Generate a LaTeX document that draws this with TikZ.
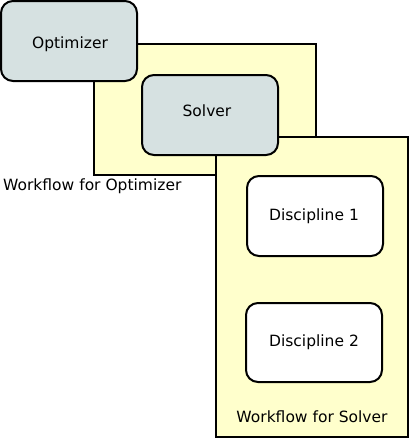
\documentclass[tikz,border=0pt]{standalone}
\usepackage{fontspec}
\setmainfont{DejaVu Sans}
\begin{document}
\begin{tikzpicture}[x=1pt,y=-1pt,
  wf/.style={draw=black,line width=2pt,fill=wfyellow},
  comp/.style={draw=black,line width=2pt,fill=compgray,rounded corners=12pt},
  disc/.style={draw=black,line width=2pt,fill=white,rounded corners=12pt},
  lbl/.style={font=\fontsize{15.5}{18}\selectfont,inner sep=0pt}]
\definecolor{wfyellow}{HTML}{FFFFCC}
\definecolor{compgray}{HTML}{D6E1E1}
\useasboundingbox (0,0) rectangle (410,440);
\draw[wf] (94,44) rectangle (316,175);
\draw[comp] (1,1) rectangle (137,81);
\node[lbl] (opt) at (70,44) {Optimizer};
\draw[wf] (216,137) rectangle (408,437);
\draw[comp] (142,75) rectangle (278,155);
\node[lbl] (solv) at (207,111) {Solver};
\draw[disc] (247,176) rectangle (383,256);
\node[lbl] (d1) at (314,216) {Discipline 1};
\draw[disc] (246,303) rectangle (382,382);
\node[lbl] (d2) at (314,342) {Discipline 2};
\node[lbl,anchor=west] (wfo) at (3,186) {Workflow for Optimizer};
\node[lbl] (wfs) at (312,417) {Workflow for Solver};
\end{tikzpicture}
\end{document}
